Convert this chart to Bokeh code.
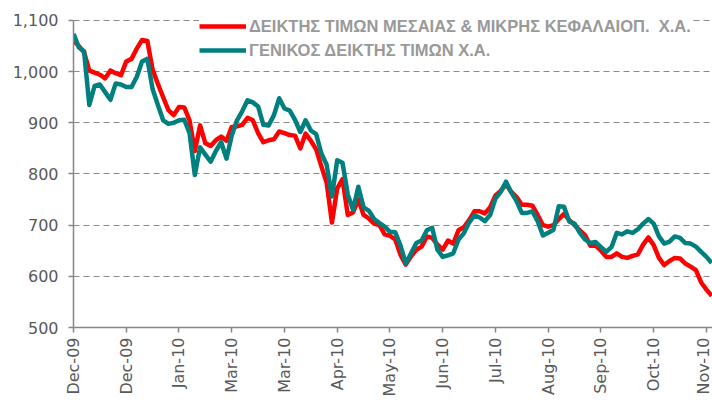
import math
from bokeh.plotting import figure
from bokeh.models import Range1d, FixedTicker, NumeralTickFormatter, Legend, LegendItem
from bokeh.embed import file_html
from bokeh.resources import INLINE

# trading-day index (every second session)
day = list(range(0, 243, 2))

mid_small = [1061, 1050, 1038, 1002, 998, 994, 987, 1002, 997, 993,
             1020, 1025, 1045, 1062, 1060, 1004, 976, 950, 925, 915,
             931, 930, 905, 845, 895, 860, 855, 866, 873, 865,
             892, 893, 896, 910, 905, 880, 862, 866, 868, 883,
             880, 876, 875, 850, 879, 865, 848, 815, 783, 705,
             772, 790, 720, 725, 750, 720, 713, 703, 700, 682,
             679, 672, 642, 623, 639, 652, 658, 678, 675, 662,
             652, 670, 664, 690, 696, 710, 727, 727, 723, 735,
             758, 767, 780, 765, 755, 740, 740, 738, 720, 700,
             697, 700, 712, 722, 710, 700, 690, 680, 660, 660,
             650, 638, 638, 645, 638, 636, 640, 643, 662, 676,
             661, 636, 622, 630, 636, 635, 625, 619, 612, 588,
             574, 562]

general = [1074, 1048, 1040, 935, 972, 975, 960, 945, 977, 975,
           970, 970, 990, 1020, 1025, 966, 935, 905, 898, 900,
           905, 906, 880, 798, 852, 838, 824, 845, 862, 830,
           875, 905, 923, 944, 940, 932, 896, 895, 915, 948,
           928, 924, 906, 882, 905, 885, 878, 840, 818, 756,
           827, 822, 760, 730, 775, 735, 728, 712, 704, 697,
           687, 686, 660, 625, 645, 665, 670, 690, 695, 652,
           638, 641, 645, 672, 684, 705, 719, 715, 708, 720,
           752, 765, 785, 764, 747, 724, 724, 727, 708, 680,
           685, 691, 737, 736, 707, 703, 685, 672, 665, 667,
           657, 648, 657, 685, 682, 688, 685, 692, 703, 712,
           703, 678, 664, 668, 678, 675, 665, 664, 658, 648,
           638, 626]

tick_days = [0, 20, 40, 60, 80, 100, 120, 140, 160, 180, 200, 220, 240]
tick_labels = ["Dec-09", "Dec-09", "Jan-10", "Mar-10", "Mar-10", "Apr-10", "May-10",
               "Jun-10", "Jul-10", "Aug-10", "Sep-10", "Oct-10", "Nov-10"]
y_ticks = [500, 600, 700, 800, 900, 1000, 1100]

label_mid = "ΔΕΙΚΤΗΣ ΤΙΜΩΝ ΜΕΣΑΙΑΣ & ΜΙΚΡΗΣ ΚΕΦΑΛΑΙΟΠ.  Χ.Α."
label_gen = "ΓΕΝΙΚΟΣ ΔΕΙΚΤΗΣ ΤΙΜΩΝ Χ.Α."

p = figure(width=712, height=404, output_backend="svg", toolbar_location=None,
           x_range=Range1d(0, 242.3), y_range=Range1d(500, 1107.8),
           min_border_left=73, min_border_right=0, min_border_top=16, min_border_bottom=77)
p.outline_line_color = None
p.background_fill_color = "white"

r1 = p.line(day, mid_small, line_color="#FF0000", line_width=4.5, line_join="round")
r2 = p.line(day, general, line_color="#007F7F", line_width=4.5, line_join="round")

p.xgrid.visible = False
p.ygrid.ticker = FixedTicker(ticks=y_ticks)
p.ygrid.grid_line_color = "#8A8A8A"
p.ygrid.grid_line_dash = "6 4"
p.ygrid.grid_line_width = 1

p.yaxis.ticker = FixedTicker(ticks=y_ticks)
p.yaxis.bounds = (500, 1100)
p.yaxis.formatter = NumeralTickFormatter(format="0,0")
p.xaxis.ticker = FixedTicker(ticks=tick_days)
p.xaxis.major_label_overrides = {d: l for d, l in zip(tick_days, tick_labels)}
p.xaxis.major_label_orientation = math.pi / 2

for ax in (p.xaxis, p.yaxis):
    ax.axis_line_color = "#868686"
    ax.axis_line_width = 1.5
    ax.major_tick_line_color = "#868686"
    ax.major_tick_line_width = 1.5
    ax.major_tick_out = 5
    ax.major_tick_in = 0
    ax.minor_tick_line_color = None
    ax.major_label_text_font = "DejaVu Sans"
    ax.major_label_text_font_size = "16px"
    ax.major_label_text_color = "#595959"
p.yaxis.major_label_standoff = 10
p.xaxis.major_label_standoff = 5

legend = Legend(items=[LegendItem(label=label_mid, renderers=[r1]),
                       LegendItem(label=label_gen, renderers=[r2])],
                location=(126, 267), padding=4, spacing=4,
                glyph_width=47, glyph_height=20, label_height=20, label_standoff=3,
                label_text_font="Liberation Sans", label_text_font_size="16.5px",
                label_text_font_style="bold", label_text_color="#999999",
                background_fill_color="white", background_fill_alpha=1.0,
                border_line_color=None, margin=0)
p.add_layout(legend, "center")

open("out.html", "w").write(file_html(p, INLINE))
